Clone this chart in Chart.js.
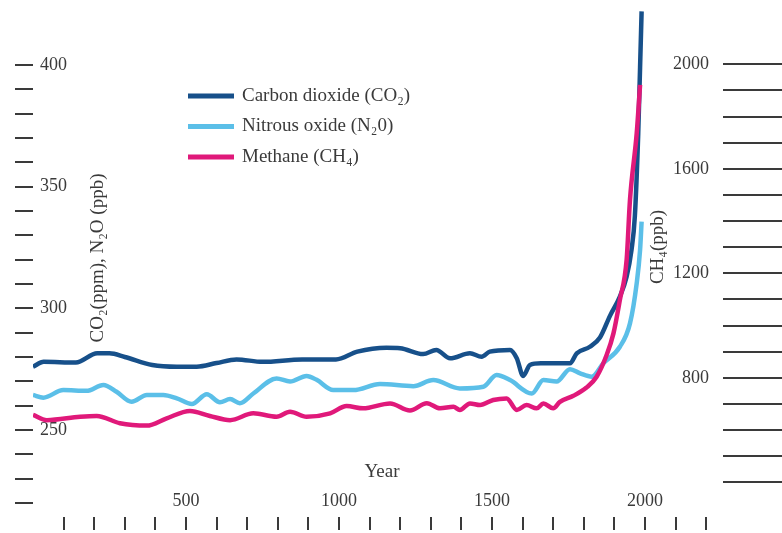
<!DOCTYPE html>
<html>
<head>
<meta charset="utf-8">
<script src="https://cdn.jsdelivr.net/npm/chart.js@4"></script>
<style>
  body { margin: 0; background: #fff; }
  #wrap { width: 782px; height: 533px; }
</style>
</head>
<body>
<div id="wrap"><canvas id="canvas"></canvas></div>
<script>
// CO2 (ppm) - left axis
const co2Years = [0, 35, 140, 210, 250, 300, 390, 470, 535, 600, 665, 750, 880, 990, 1060, 1155, 1200, 1275, 1318, 1363, 1428, 1466, 1493, 1559, 1581, 1602, 1624, 1660, 1755, 1777, 1820, 1853, 1886, 1918, 1940, 1956, 1967, 1978, 1984, 1989];
const co2Values = [276, 278, 277.7, 281.5, 281.5, 280, 276.7, 276, 276, 277.5, 279, 278, 279, 279, 282.2, 283.8, 283.6, 281.2, 282.9, 279.5, 281.5, 280.1, 282.2, 282.9, 279.5, 272.2, 276.7, 277.4, 277.4, 281.5, 284.2, 288, 297, 304.8, 313, 324, 338, 372, 399, 422];

// N2O (ppb) - left axis
const n2oYears = [0, 34, 99, 175, 230, 273, 322, 372, 426, 470, 519, 568, 611, 644, 676, 720, 796, 840, 894, 927, 981, 1047, 1134, 1243, 1308, 1395, 1472, 1515, 1559, 1630, 1668, 1711, 1755, 1788, 1826, 1864, 1918, 1951, 1973, 1984, 1989];
const n2oValues = [264.4, 263.3, 266.4, 266.1, 268.5, 265.7, 261.6, 264.4, 264.4, 263, 260.7, 264.7, 261.4, 262.7, 261, 265, 271.2, 269.9, 272.2, 270.6, 266.4, 266.4, 268.9, 268, 270.5, 267.1, 267.8, 272.6, 270.5, 265, 270.5, 269.9, 275, 273.3, 271.9, 277.4, 284.2, 293.8, 310.3, 324, 335.6];

// CH4 (ppb) - right axis
const ch4Years = [0, 45, 154, 208, 284, 372, 437, 513, 578, 644, 720, 796, 840, 894, 971, 1025, 1079, 1167, 1232, 1287, 1330, 1374, 1395, 1428, 1461, 1504, 1548, 1581, 1613, 1646, 1668, 1700, 1722, 1766, 1809, 1842, 1875, 1897, 1918, 1940, 1951, 1973, 1984];
const ch4Values = [658, 638, 651, 654, 626, 617, 645, 673, 654, 638, 664, 651, 670, 651, 664, 692, 683, 702, 675, 703, 683, 689, 677, 702, 696, 715, 721, 677, 696, 683, 702, 683, 708, 731, 763, 804, 888, 970, 1098, 1251, 1481, 1736, 1921];

const seriesNames = ['Carbon dioxide (CO\u2082)', 'Nitrous oxide (N\u20820)', 'Methane (CH\u2084)'];
const seriesColors = ['#17508a', '#5bbfe8', '#e0197a'];

// axis ticks
const yearTicks = [100, 200, 300, 400, 500, 600, 700, 800, 900, 1000, 1100, 1200, 1300, 1400, 1500, 1600, 1700, 1800, 1900, 2000, 2100, 2200];
const yearLabels = [500, 1000, 1500, 2000];
const leftTicks = [220, 230, 240, 250, 260, 270, 280, 290, 300, 310, 320, 330, 340, 350, 360, 370, 380, 390, 400];
const leftLabels = [250, 300, 350, 400];
const rightTicks = [400, 500, 600, 700, 800, 900, 1000, 1100, 1200, 1300, 1400, 1500, 1600, 1700, 1800, 1900, 2000];
const rightLabels = [800, 1200, 1600, 2000];

const leftTitle = 'CO\u2082(ppm), N\u2082O (ppb)';
const rightTitle = 'CH\u2084(ppb)';
const xTitle = 'Year';

const serif = '"Liberation Serif", "DejaVu Serif", serif';
const textColor = '#3a3a3a';
const tickColor = '#3a3a3a';

function toPoints(xs, ys) {
    return xs.map((x, i) => ({ x: x, y: ys[i] }));
}

function noPad(s) {
    s.paddingTop = 0;
    s.paddingBottom = 0;
    s.paddingLeft = 0;
    s.paddingRight = 0;
}

// legend and axis titles drawn inside the plot
const overlay = {
    id: 'overlay',
    afterDraw(chart) {
        const ctx = chart.ctx;
        ctx.save();
        ctx.fillStyle = textColor;
        ctx.font = '19px ' + serif;
        ctx.textBaseline = 'middle';
        ctx.textAlign = 'left';
        chart.data.datasets.forEach((ds, i) => {
            const y = 96 + i * 30.5;
            ctx.strokeStyle = ds.borderColor;
            ctx.lineWidth = 5;
            ctx.beginPath();
            ctx.moveTo(188, y);
            ctx.lineTo(234, y);
            ctx.stroke();
            ctx.fillText(ds.label, 242, y);
        });

        ctx.textAlign = 'center';
        ctx.fillText(xTitle, 382, 472);

        ctx.save();
        ctx.translate(98, 258);
        ctx.rotate(-Math.PI / 2);
        ctx.fillText(leftTitle, 0, 0);
        ctx.restore();

        ctx.save();
        ctx.translate(658, 247);
        ctx.rotate(-Math.PI / 2);
        ctx.fillText(rightTitle, 0, 0);
        ctx.restore();
        ctx.restore();
    }
};

const ctx = document.getElementById('canvas').getContext('2d');
const myChart = new Chart(ctx, {
    type: 'line',
    data: {
        datasets: [
            { label: seriesNames[0], data: toPoints(co2Years, co2Values), borderColor: seriesColors[0], yAxisID: 'y', order: 2 },
            { label: seriesNames[1], data: toPoints(n2oYears, n2oValues), borderColor: seriesColors[1], yAxisID: 'y', order: 3 },
            { label: seriesNames[2], data: toPoints(ch4Years, ch4Values), borderColor: seriesColors[2], yAxisID: 'y2', order: 1 }
        ]
    },
    options: {
        responsive: true,
        maintainAspectRatio: false,
        animation: false,
        layout: { padding: { top: 8, left: 0, right: 0, bottom: 0 } },
        elements: {
            line: { borderWidth: 4.5, cubicInterpolationMode: 'monotone' },
            point: { radius: 0 }
        },
        plugins: {
            legend: { display: false },
            tooltip: { enabled: false }
        },
        scales: {
            x: {
                type: 'linear',
                position: 'bottom',
                min: 0,
                max: 2255,
                afterBuildTicks: s => { s.ticks = yearTicks.map(v => ({ value: v })); },
                afterFit: s => { s.height = 16; noPad(s); },
                border: { display: false },
                grid: { drawOnChartArea: false, tickLength: 13, color: tickColor, lineWidth: 2 },
                ticks: {
                    autoSkip: false,
                    maxRotation: 0,
                    mirror: true,
                    padding: 5,
                    color: textColor,
                    font: { family: serif, size: 18 },
                    callback: v => yearLabels.includes(v) ? String(v) : ''
                }
            },
            y: {
                position: 'left',
                min: 214.25,
                max: 423.4,
                afterBuildTicks: s => { s.ticks = leftTicks.map(v => ({ value: v })); },
                afterFit: s => { s.width = 33; noPad(s); },
                border: { display: false },
                grid: { drawOnChartArea: false, tickLength: 18, color: tickColor, lineWidth: 2 },
                ticks: {
                    autoSkip: false,
                    mirror: true,
                    padding: 7,
                    color: textColor,
                    font: { family: serif, size: 18 },
                    callback: v => leftLabels.includes(v) ? String(v) : ''
                }
            },
            y2: {
                position: 'right',
                min: 267.2,
                max: 2215.5,
                afterBuildTicks: s => { s.ticks = rightTicks.map(v => ({ value: v })); },
                afterFit: s => { s.width = 59; noPad(s); },
                border: { display: false },
                grid: { drawOnChartArea: false, tickLength: 59, color: tickColor, lineWidth: 2 },
                ticks: {
                    autoSkip: false,
                    mirror: true,
                    // mirrored right labels sit at left + padding, right aligned
                    padding: -14,
                    color: textColor,
                    font: { family: serif, size: 18 },
                    callback: v => rightLabels.includes(v) ? String(v) : ''
                }
            }
        }
    },
    plugins: [overlay]
});
</script>
</body>
</html>
